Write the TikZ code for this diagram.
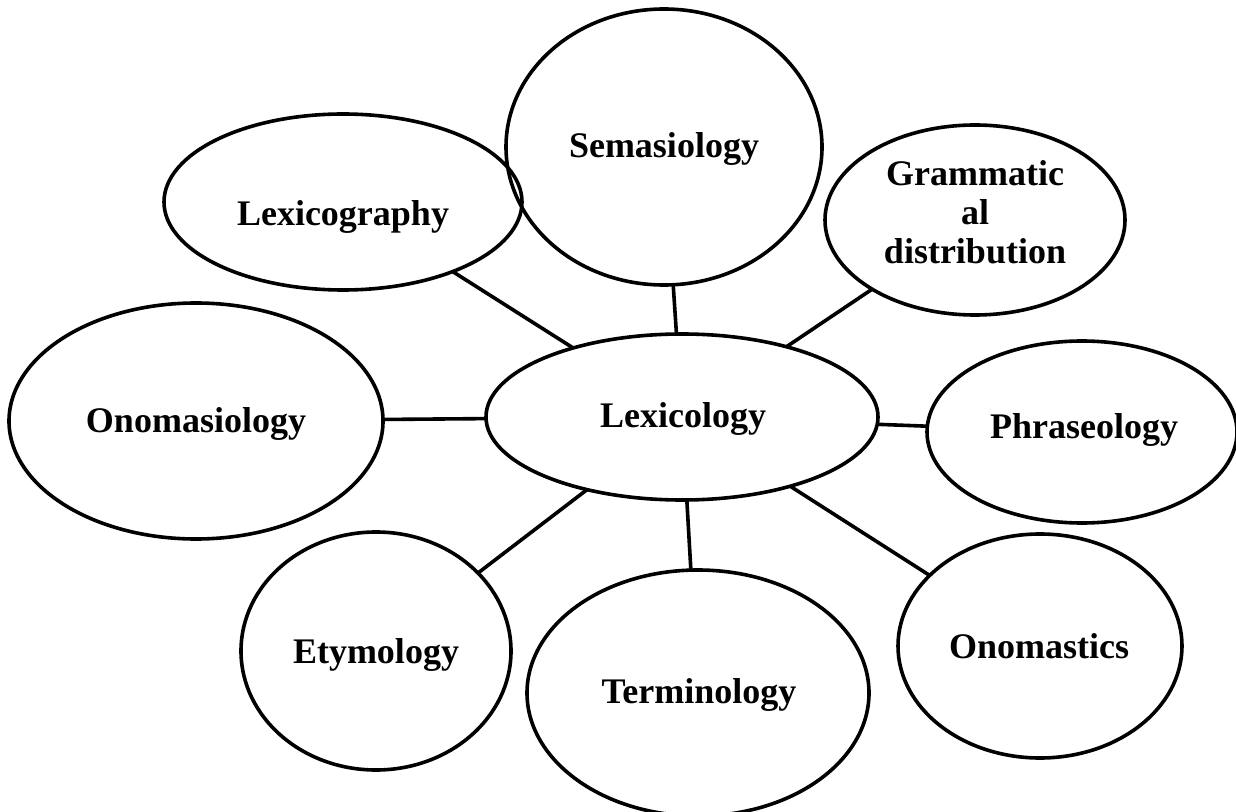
\documentclass[tikz,border=0pt]{standalone}
\usepackage{fontspec}
\setmainfont{Liberation Serif}
\usetikzlibrary{shapes.geometric}
\begin{document}
\begin{tikzpicture}[x=0.5pt,y=-0.5pt,
  bubble/.style={draw=black,line width=1.8pt,ellipse,inner sep=0pt,outer sep=0pt},
  txt/.style={font=\bfseries\fontsize{18}{19.5}\selectfont,inner sep=0pt,align=center,anchor=base},
  conn/.style={draw=black,line width=1.8pt}]
\useasboundingbox (0,0) rectangle (1236,812);
% ellipses
\node[bubble,minimum width=196pt,minimum height=83pt] (lex) at (682,417) {};
\node[bubble,minimum width=158pt,minimum height=138pt] (sem) at (664,147) {};
\node[bubble,minimum width=179pt,minimum height=88pt] (lexg) at (343,202) {};
\node[bubble,minimum width=150pt,minimum height=95pt] (gram) at (975,220) {};
\node[bubble,minimum width=187pt,minimum height=118pt] (onomas) at (196,421) {};
\node[bubble,minimum width=155pt,minimum height=91pt] (phr) at (1082,432) {};
\node[bubble,minimum width=135pt,minimum height=119pt] (ety) at (376,651) {};
\node[bubble,minimum width=171pt,minimum height=123pt] (term) at (698,693) {};
\node[bubble,minimum width=142pt,minimum height=112pt] (onomast) at (1040,646) {};
% texts
\node[txt] (tlex) at (683,428) {Lexicology};
\node[txt] (tsem) at (664,158) {Semasiology};
\node[txt] (tlexg) at (343,226) {Lexicography};
\node[txt,anchor=center] (tgram) at (975,212) {Grammatic\\al\\distribution};
\node[txt] (tonomas) at (196,432) {Onomasiology};
\node[txt] (tphr) at (1084,438) {Phraseology};
\node[txt] (tety) at (376,663) {Etymology};
\node[txt] (tterm) at (699,703) {Terminology};
\node[txt] (tonomast) at (1039,658) {Onomastics};
% connectors
\draw[conn] (lex) -- (sem);
\draw[conn] (lex) -- (lexg);
\draw[conn] (lex) -- (gram);
\draw[conn] (lex) -- (onomas);
\draw[conn] (lex) -- (phr);
\draw[conn] (lex) -- (ety);
\draw[conn] (lex) -- (term);
\draw[conn] (lex) -- (onomast);
\end{tikzpicture}
\end{document}
